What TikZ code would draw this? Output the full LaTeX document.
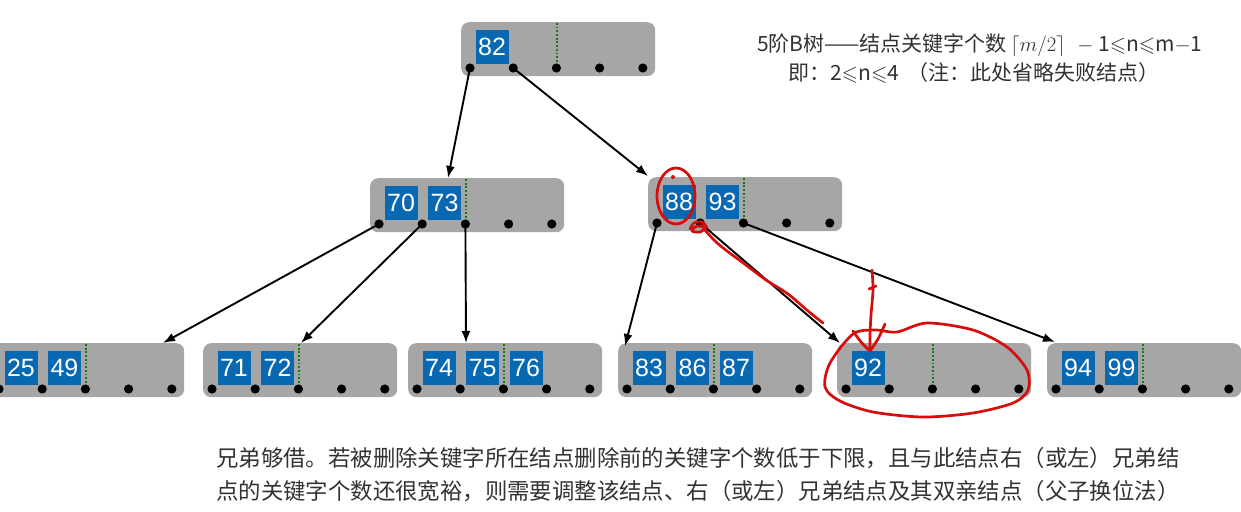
\documentclass[tikz,border=0pt]{standalone}
\usepackage{fontspec}
\usepackage{amssymb}
\setmainfont{Noto Sans CJK SC}
\newfontfamily\keyfont{Liberation Sans}
\usetikzlibrary{calc,arrows.meta}
\definecolor{nodegray}{RGB}{166,166,166}
\definecolor{keyblue}{RGB}{8,104,178}
\definecolor{dotgreen}{RGB}{20,120,20}
\definecolor{txtgray}{RGB}{50,50,50}
\definecolor{penred}{RGB}{215,12,12}
\tikzset{
  gnode/.style={fill=nodegray, draw=none, rounded corners=8pt, minimum width=194pt, minimum height=54pt, inner sep=0pt},
  keybox/.style={fill=keyblue, draw=none, minimum width=33pt, minimum height=34pt, inner sep=0pt, text=white, font=\keyfont\fontsize{25}{25}\selectfont},
  greendot/.style={dotgreen, line width=1.8pt, dash pattern=on 1.8pt off 1.9pt},
  edge/.style={line width=1.9pt, -{Latex[length=12pt,width=9pt]}},
  redpen/.style={penred, line width=2.7pt, line cap=round, line join=round},
  txt/.style={text=txtgray, inner sep=0pt}
}
\newcommand\btnode[4]{%
  \node[gnode, anchor=north west] (#1) at (#2,#3) {};
  \foreach \k [count=\j from 0] in {#4} {\node[keybox] (#1-k\j) at ($(#1.north west)+(31+43.5*\j,25)$) {\k};}
  \draw[greendot] ($(#1.north west)+(96,1)$) -- ($(#1.north west)+(96,45)$);
  \foreach \i in {0,...,4} {\coordinate (#1-d\i) at ($(#1.north west)+(9+43.2*\i,46)$); \fill (#1-d\i) circle (4.6pt);}
}
\begin{document}
\begin{tikzpicture}[x=1pt,y=-1pt]
\useasboundingbox (0,0) rectangle (1241,511);
\btnode{R}{461}{22}{82}
\btnode{A}{370}{178}{70,73}
\btnode{B}{648}{177}{88,93}
\btnode{C1}{-10}{343}{25,49}
\btnode{C2}{203}{343}{71,72}
\btnode{C3}{408}{343}{74,75,76}
\btnode{C4}{618}{343}{83,86,87}
\btnode{C5}{837}{343}{92}
\btnode{C6}{1047}{343}{94,99}
% arrow targets
\coordinate (tA) at ($(A.north west)+(78,0)$);
\coordinate (tB) at ($(B.north west)+(0,-1)$);
\coordinate (tC1) at ($(C1.north west)+(173,0)$);
\coordinate (tC2) at ($(C2.north west)+(98,0)$);
\coordinate (tC3) at ($(C3.north west)+(58,0)$);
\coordinate (tC4) at ($(C4.north west)+(7,3)$);
\coordinate (tC5) at ($(C5.north west)+(3,0)$);
\coordinate (tC6) at ($(C6.north west)+(8,-1)$);
\draw[edge] (R-d0) -- (tA);
\draw[edge] (R-d1) -- (tB);
\draw[edge] (A-d0) -- (tC1);
\draw[edge] (A-d1) -- (tC2);
\draw[edge] (A-d2) -- (tC3);
\draw[edge] (B-d0) -- (tC4);
\draw[edge] (B-d1) -- (tC5);
\draw[edge] (B-d2) -- (tC6);
% texts
\node[txt, anchor=west, font=\fontsize{21}{23}\selectfont] (note1) at (757,45) {5阶B树——结点关键字个数\,$\lceil m/2\rceil$\,\, $-$ 1$\leqslant$n$\leqslant$m$-$1};
\node[txt, anchor=west, font=\fontsize{21}{23}\selectfont] (note2) at (788,73) {即：2$\leqslant$n$\leqslant$4\, （注：此处省略失败结点）};
\node[txt, anchor=west, font=\fontsize{22.4}{26}\selectfont] (desc1) at (216,458) {兄弟够借。若被删除关键字所在结点删除前的关键字个数低于下限，且与此结点右（或左）兄弟结};
\node[txt, anchor=west, font=\fontsize{22.4}{26}\selectfont] (desc2) at (216,491) {点的关键字个数还很宽裕，则需要调整该结点、右（或左）兄弟结点及其双亲结点（父子换位法）};
% red hand annotations
\draw[redpen] (676,196) ellipse (19pt and 28pt);
\fill[penred] (673,177) circle (2pt);
\draw[redpen] plot[smooth] coordinates {(690,229) (694,223) (702,222) (706,227) (700,232) (692,231) (697,226) (707,227)};
\draw[redpen] plot[smooth] coordinates {(703,228) (715,241) (727,251) (742,262) (766,280) (788,294) (808,311) (823,323)};
\draw[redpen] plot[smooth] coordinates {(872,270) (873,290) (871,315) (870,335) (870,351)};
\draw[redpen] (869,289) -- (876,286);
\draw[redpen] plot[smooth] coordinates {(853,331) (861,342) (870,351)};
\draw[redpen] plot[smooth] coordinates {(885,324) (878,339) (870,351)};
\draw[redpen] plot[smooth cycle] coordinates {(853,334) (875,330) (897,332) (927,323) (973,330) (1007,347) (1027,370) (1028,390) (1013,403) (973,413) (923,417) (873,412) (840,401) (825,387) (830,363)};
\end{tikzpicture}
\end{document}
